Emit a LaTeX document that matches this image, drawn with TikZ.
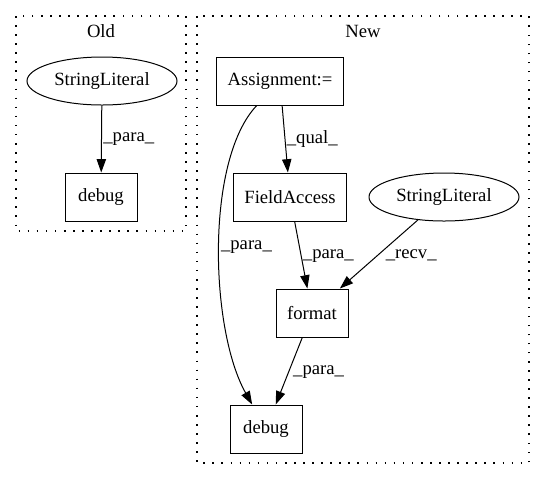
\documentclass[tikz,border=0pt]{standalone}
\usepackage{fontspec}
\setmainfont{Liberation Serif}
\usetikzlibrary{shapes.geometric,arrows.meta}
\begin{document}
\begin{tikzpicture}[x=0.75pt,y=-0.75pt,
  font=\fontsize{14pt}{16pt}\selectfont,
  box/.style={draw,line width=0.75pt,rectangle,minimum width=54pt,minimum height=36pt,inner xsep=8pt},
  oval/.style={draw,line width=0.75pt,ellipse,minimum width=112.5pt,minimum height=36pt,inner sep=0pt},
  edge/.style={draw,line width=0.75pt,-{Triangle[length=10pt,width=7pt]}},
  lbl/.style={right,inner sep=1pt},
  cluster/.style={draw,line width=1pt,dash pattern=on 1.2pt off 5.6pt}]
  \useasboundingbox (0,0) rectangle (545,480);
  % Old cluster
  \draw[cluster] (16,16) rectangle (186,231);
  \node (oldtitle) at (101,31) {Old};
  \node[oval] (oldstr) at (102,81) {StringLiteral};
  \node[box]  (olddebug) at (101,197) {debug};
  \draw[edge] (oldstr) -- node[lbl] {\_para\_} (olddebug);
  % New cluster
  \draw[cluster] (197,16) rectangle (529,463);
  \node (newtitle) at (363,31) {New};
  \node[box]  (assign) at (280,81) {Assignment:=};
  \node[box]  (field) at (290,197) {FieldAccess};
  \node[oval] (newstr) at (444,197) {StringLiteral};
  \node[box]  (format) at (312,313) {format};
  \node[box]  (newdebug) at (266,429) {debug};
  \draw[edge] (assign) -- node[lbl] {\_qual\_} (field);
  \draw[edge] (field) -- node[lbl,pos=0.51] {\_para\_} (format);
  \draw[edge] (newstr) -- node[lbl,pos=0.52,xshift=5pt] {\_recv\_} (format);
  \draw[edge] (format) -- node[lbl,pos=0.51,xshift=2pt] {\_para\_} (newdebug);
  \draw[edge] (assign) .. controls (205,160) and (210,330) .. node[lbl,pos=0.5] {\_para\_} (newdebug);
\end{tikzpicture}
\end{document}
